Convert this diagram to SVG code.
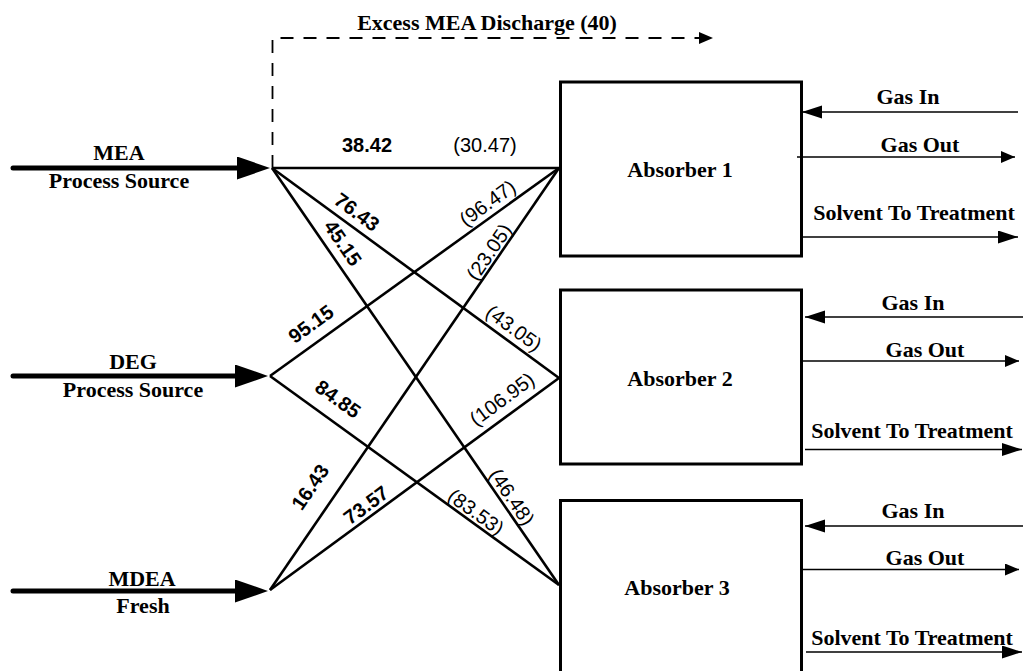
<svg xmlns="http://www.w3.org/2000/svg" width="1024" height="671" viewBox="0 0 1024 671">
  <defs>
    <style>
      .t { font-family: "Liberation Serif", "Times New Roman", serif; font-weight: bold; font-size: 22px; fill: #000; text-anchor: middle; }
      .n { font-family: "Liberation Sans", Arial, sans-serif; font-weight: bold; font-size: 20px; fill: #000; text-anchor: middle; }
      .p { font-family: "Liberation Sans", Arial, sans-serif; font-weight: normal; font-size: 20px; fill: #000; text-anchor: middle; }
      .box { fill: #fff; stroke: #000; stroke-width: 3; }
      .feed { fill: none; stroke: #000; stroke-width: 5; stroke-linecap: round; }
      .flow { fill: none; stroke: #000; stroke-width: 2.6; }
      .thin { fill: none; stroke: #000; stroke-width: 1.5; }
      .dash { fill: none; stroke: #000; stroke-width: 1.8; stroke-dasharray: 13 10; }
    </style>
    <marker id="bigHead" markerUnits="userSpaceOnUse" markerWidth="34" markerHeight="24" refX="0" refY="11.5" orient="auto">
      <path d="M0,0 L33,11.5 L0,23 Z" fill="#000"/>
    </marker>
    <marker id="headL" markerUnits="userSpaceOnUse" markerWidth="21" markerHeight="14" refX="20" refY="6.5" orient="auto">
      <path d="M0,0 L20,6.5 L0,13 Z" fill="#000"/>
    </marker>
    <marker id="headS" markerUnits="userSpaceOnUse" markerWidth="15" markerHeight="13" refX="14" refY="6" orient="auto">
      <path d="M0,0 L14,6 L0,12 Z" fill="#000"/>
    </marker>
  </defs>

  <rect width="1024" height="671" fill="#fff"/>

  <!-- Source nodes -->
  <g id="node-mea">
    <path class="feed" d="M13,168 L237,168" marker-end="url(#bigHead)"/>
    <text class="t" x="119" y="160">MEA</text>
    <text class="t" x="119" y="188">Process Source</text>
  </g>
  <g id="node-deg">
    <path class="feed" d="M13,376 L235,376" marker-end="url(#bigHead)"/>
    <text class="t" x="133" y="369">DEG</text>
    <text class="t" x="133" y="397">Process Source</text>
  </g>
  <g id="node-mdea">
    <path class="feed" d="M13,591 L235,591" marker-end="url(#bigHead)"/>
    <text class="t" x="142" y="586">MDEA</text>
    <text class="t" x="143" y="613">Fresh</text>
  </g>

  <!-- Absorbers -->
  <g id="node-absorber1">
    <rect class="box" x="560.5" y="82" width="241" height="174"/>
    <text class="t" x="680" y="177">Absorber 1</text>
  </g>
  <g id="node-absorber2">
    <rect class="box" x="560.5" y="290" width="241" height="174"/>
    <text class="t" x="680" y="386">Absorber 2</text>
  </g>
  <g id="node-absorber3">
    <rect class="box" x="560.5" y="500.5" width="241" height="200"/>
    <text class="t" x="677" y="595">Absorber 3</text>
  </g>

  <!-- Connectors -->
  <g id="connectors">
    <path class="dash" d="M272.5,168 L272.5,38 L713,38" marker-end="url(#headS)"/>
    <path class="flow" d="M272,168 L559,168"/>
    <path class="flow" d="M272,168 L559,378"/>
    <path class="flow" d="M272,168 L559,585"/>
    <path class="flow" d="M270,376 L559,168"/>
    <path class="flow" d="M270,376 L559,585"/>
    <path class="flow" d="M270,590 L559,168"/>
    <path class="flow" d="M270,590 L559,378"/>

    <path class="thin" d="M1018,112 L802,112" marker-end="url(#headL)"/>
    <path class="thin" d="M797,157 L1015,157" marker-end="url(#headS)"/>
    <path class="thin" d="M802,237 L1018,237" marker-end="url(#headL)"/>

    <path class="thin" d="M1023,317 L805,317" marker-end="url(#headL)"/>
    <path class="thin" d="M802,361 L1019,361" marker-end="url(#headS)"/>
    <path class="thin" d="M805,449.5 L1022,449.5" marker-end="url(#headL)"/>

    <path class="thin" d="M1023,526 L805,526" marker-end="url(#headL)"/>
    <path class="thin" d="M802,569.5 L1019,569.5" marker-end="url(#headS)"/>
    <path class="thin" d="M806,652 L1022,652" marker-end="url(#headL)"/>
  </g>

  <!-- Labels -->
  <g id="labels">
    <text class="t" x="487" y="30">Excess MEA Discharge (40)</text>

    <text class="n" x="367" y="152">38.42</text>
    <text class="p" x="485" y="152">(30.47)</text>

    <text class="n" transform="translate(357,212) rotate(36.2)" y="7">76.43</text>
    <text class="n" transform="translate(343,243) rotate(55.5)" y="7">45.15</text>
    <text class="p" transform="translate(487.5,203) rotate(-35.7)" y="7">(96.47)</text>
    <text class="p" transform="translate(489,252) rotate(-55.6)" y="7">(23.05)</text>
    <text class="p" transform="translate(514,328) rotate(36.2)" y="7">(43.05)</text>
    <text class="n" transform="translate(311,324) rotate(-35.7)" y="7">95.15</text>
    <text class="n" transform="translate(338,399) rotate(35.9)" y="7">84.85</text>
    <text class="p" transform="translate(502,399) rotate(-36.3)" y="7">(106.95)</text>
    <text class="n" transform="translate(310,487) rotate(-55.6)" y="7">16.43</text>
    <text class="n" transform="translate(366,505) rotate(-36.3)" y="7">73.57</text>
    <text class="p" transform="translate(512,497) rotate(55.5)" y="7">(46.48)</text>
    <text class="p" transform="translate(476,512) rotate(35.9)" y="7">(83.53)</text>

    <text class="t" x="908" y="104">Gas In</text>
    <text class="t" x="920" y="152">Gas Out</text>
    <text class="t" x="914" y="220">Solvent To Treatment</text>

    <text class="t" x="913" y="310">Gas In</text>
    <text class="t" x="925" y="357">Gas Out</text>
    <text class="t" x="912" y="438">Solvent To Treatment</text>

    <text class="t" x="913" y="518">Gas In</text>
    <text class="t" x="925" y="565">Gas Out</text>
    <text class="t" x="912" y="645">Solvent To Treatment</text>
  </g>
</svg>
